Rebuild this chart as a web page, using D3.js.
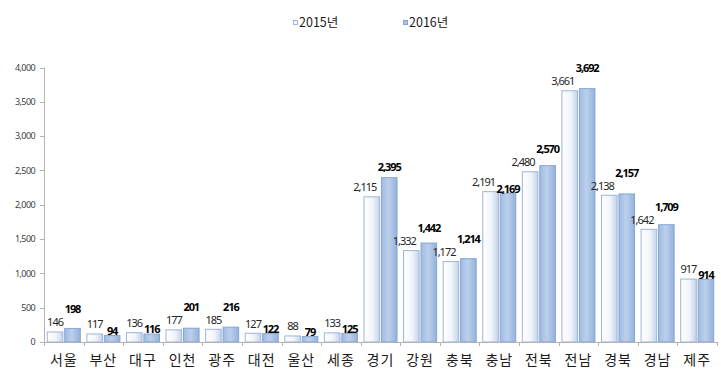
<!DOCTYPE html>
<html><head><meta charset="utf-8">
<script src="https://cdn.jsdelivr.net/npm/d3@7/dist/d3.min.js"></script>
<style>
html,body{margin:0;padding:0;background:#fff;}
svg{display:block;}
</style></head>
<body>
<svg id="chart" width="721" height="392"></svg>
<script>
const categories = ["서울","부산","대구","인천","광주","대전","울산","세종","경기","강원","충북","충남","전북","전남","경북","경남","제주"];
const values2015 = [146,117,136,177,185,127,88,133,2115,1332,1172,2191,2480,3661,2138,1642,917];
const values2016 = [198,94,116,201,216,122,79,125,2395,1442,1214,2169,2570,3692,2157,1709,914];
const seriesNames = ["2015년","2016년"];
const yTicks = [0,500,1000,1500,2000,2500,3000,3500,4000];

(function(){
const svg = d3.select("#chart");
const mLeft = 44, mRight = 717, mTop = 67.5, mBottom = 342;

const x = d3.scaleBand().domain(categories).range([mLeft, mRight]).paddingInner(0.14).paddingOuter(0.07);
const x1 = d3.scaleBand().domain([0,1]).range([0, x.bandwidth()]).paddingInner(0.05);
const y = d3.scaleLinear().domain([0,4000]).range([mBottom, mTop]);

const defs = svg.append("defs");
const g1 = defs.append("linearGradient").attr("id","gw").attr("x1","0").attr("x2","1").attr("y1","0").attr("y2","0");
g1.append("stop").attr("offset","0%").attr("stop-color","#ffffff");
g1.append("stop").attr("offset","55%").attr("stop-color","#f1f5fb");
g1.append("stop").attr("offset","100%").attr("stop-color","#c3d3eb");
const g2 = defs.append("linearGradient").attr("id","gb").attr("x1","0").attr("x2","1").attr("y1","0").attr("y2","0");
g2.append("stop").attr("offset","0%").attr("stop-color","#9fbae1");
g2.append("stop").attr("offset","45%").attr("stop-color","#bcd0ec");
g2.append("stop").attr("offset","100%").attr("stop-color","#94b2dc");

const axisColor = "#b3b3b3";
svg.append("line").attr("x1",mLeft+0.5).attr("x2",mLeft+0.5).attr("y1",y(4000)).attr("y2",mBottom).attr("stroke",axisColor);
svg.selectAll(".yt").data(yTicks).enter().append("line")
  .attr("x1",mLeft-4).attr("x2",mLeft).attr("y1",d=>Math.round(y(d))+0.5).attr("y2",d=>Math.round(y(d))+0.5).attr("stroke",axisColor);
svg.selectAll(".yl").data(yTicks).enter().append("text")
  .attr("x",35).attr("y",d=>y(d)).attr("dy","0.35em").attr("text-anchor","end")
  .attr("font-family","'Noto Sans', sans-serif").attr("font-size","9px").attr("letter-spacing","-0.6")
  .attr("fill","#404040").text(d=>d3.format(",")(d));

const series = [values2015, values2016];
categories.forEach((c,i)=>{
  series.forEach((vals,s)=>{
    const v = vals[i];
    svg.append("rect")
      .attr("x", x(c)+x1(s)+0.5).attr("y", y(v))
      .attr("width", x1.bandwidth()-1).attr("height", mBottom - y(v))
      .attr("fill", s===0 ? "url(#gw)" : "url(#gb)")
      .attr("stroke", s===0 ? "#9fb5d8" : "#86a6d3").attr("stroke-width",1);
  });
});

svg.append("line").attr("x1",mLeft).attr("x2",mRight).attr("y1",mBottom+0.5).attr("y2",mBottom+0.5).attr("stroke",axisColor);
const bounds = categories.map(c=>x(c)-x.step()*x.paddingInner()/2).concat([mRight]);
svg.selectAll(".xt").data(bounds).enter().append("line")
  .attr("x1",d=>Math.round(d)+0.5).attr("x2",d=>Math.round(d)+0.5).attr("y1",mBottom).attr("y2",mBottom+4).attr("stroke",axisColor);

svg.selectAll(".xl").data(categories).enter().append("text")
  .attr("x",c=>x(c)+x.bandwidth()/2).attr("y",360).attr("dy","0.35em").attr("text-anchor","middle")
  .attr("font-family","'Noto Sans CJK KR', sans-serif").attr("font-size","14px").attr("fill","#1a1a1a")
  .attr("letter-spacing","1")
  .text(c=>c);

const fmt = d3.format(",");
categories.forEach((c,i)=>{
  const v0 = values2015[i], v1 = values2016[i];
  const cx0 = x(c)+x1(0)+x1.bandwidth()/2 - (v0>=1000?7:0);
  const cx1 = x(c)+x1(1)+x1.bandwidth()/2;
  const y0 = y(v0) - 9.5;
  let y1;
  if (v1 >= v0) y1 = Math.min(y(v1) - 10, y0 - 13);
  else y1 = Math.min(y0 + 8.5, y(v1) - 4.5);
  svg.append("text").attr("x",cx0).attr("y",y0).attr("dy","0.35em").attr("text-anchor","middle")
    .attr("font-family","'Noto Sans', sans-serif").attr("font-size","11px").attr("letter-spacing","-1")
    .attr("fill","#262626").text(fmt(v0));
  svg.append("text").attr("x",cx1).attr("y",y1).attr("dy","0.35em").attr("text-anchor","middle")
    .attr("font-family","'Noto Sans', sans-serif").attr("font-size","11px").attr("font-weight","bold").attr("letter-spacing","-1.1")
    .attr("fill","#000").text(fmt(v1));
});

const legX = [293, 403];
seriesNames.forEach((n,s)=>{
  svg.append("rect").attr("x",legX[s]+0.5).attr("y",20.5).attr("width",4).attr("height",4)
    .attr("fill", s===0 ? "#f4f7fc" : "#a9c1e4").attr("stroke", s===0 ? "#9fb5d8" : "#86a6d3");
  svg.append("text").attr("x",legX[s]+6).attr("y",23).attr("dy","0.35em")
    .attr("font-family","'Noto Sans CJK KR', sans-serif").attr("font-size","12.5px").attr("fill","#1a1a1a")
    .text(n);
});
})();
</script>
</body></html>
